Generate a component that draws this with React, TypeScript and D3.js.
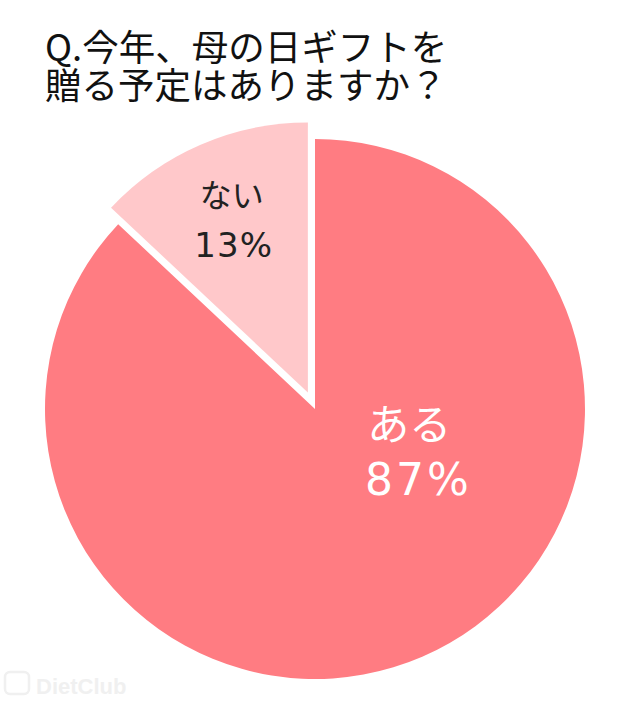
import React from "react";
import * as d3 from "d3";

const titleLines = ["Q.今年、母の日ギフトを", "贈る予定はありますか？"];
const categories = ["ある", "ない"];
const values = [87, 13];
const colors = ["#FF7C82", "#FFC8CA"];
const labelColors = ["#FFFFFF", "#222222"];

const W = 640;
const H = 703;
const cx = 315;
const cy = 409;
const R = 270;
const explode = 18;

// label layout per slice: angle (deg, clockwise from top), radius fraction, font sizes, offsets
const labelLayout = [
  { angle: 118.8, rFrac: 0.42, nameSize: 42, valueSize: 44, nameDy: -24, valueDy: 31, nameDx: -5, valueDx: 4, spacing: 3 },
  { angle: 336.6, rFrac: 0.72, nameSize: 32, valueSize: 34, nameDy: -7, valueDy: 43, nameDx: 1, valueDx: 3, spacing: 1 },
];

export default function App() {
  const data = categories.map((c, i) => ({ name: c, value: values[i], color: colors[i], text: labelColors[i], explode: i === 1 }));
  const pie = d3.pie<any>().value((d: any) => d.value).sort(null).startAngle(0).endAngle(Math.PI * 2);
  const arcs = pie(data);
  const arc = d3.arc<any>().innerRadius(0).outerRadius(R);
  const font = "'Noto Sans CJK JP', 'Noto Sans', sans-serif";
  const numFont = "'DejaVu Sans', 'Liberation Sans', sans-serif";

  return (
    <svg width={W} height={H} style={{ position: "absolute", left: 0, top: 0, background: "#fff" }} fontFamily={font}>
      <rect width={W} height={H} fill="#fff" />
      <text x={45} y={61} fontSize={36.5} fill="#111" fontWeight={400}>
        {titleLines.map((t, i) => (
          <tspan key={i} x={45} dy={i === 0 ? 0 : 38}>
            {t}
          </tspan>
        ))}
      </text>
      <g transform={`translate(${cx},${cy})`}>
        {arcs.map((a, i) => {
          const mid = (a.startAngle + a.endAngle) / 2;
          const off = a.data.explode ? explode : 0;
          const dx = Math.sin(mid) * off;
          const dy = -Math.cos(mid) * off;
          return (
            <g key={i} transform={`translate(${dx},${dy})`}>
              <path d={arc(a) as string} fill={a.data.color} />
            </g>
          );
        })}
        {arcs.map((a, i) => {
          const L = labelLayout[i];
          const ang = (L.angle * Math.PI) / 180;
          const mid = (a.startAngle + a.endAngle) / 2;
          const off = a.data.explode ? explode : 0;
          const rr = R * L.rFrac;
          const x = Math.sin(ang) * rr + Math.sin(mid) * off;
          const y = -Math.cos(ang) * rr - Math.cos(mid) * off;
          return (
            <g key={"l" + i} fill={a.data.text} textAnchor="middle">
              <text x={x + L.nameDx} y={y + L.nameDy} fontSize={L.nameSize}>{a.data.name}</text>
              <text x={x + L.valueDx} y={y + L.valueDy} fontSize={L.valueSize} fontFamily={numFont} letterSpacing={L.spacing}>
                {a.data.value}%
              </text>
            </g>
          );
        })}
      </g>
      <g opacity={0.9}>
        <rect x={5} y={672} width={24} height={22} rx={5} fill="none" stroke="#efefef" strokeWidth={2.5} />
        <text x={36} y={694} fontSize={22} fill="#efefef" fontFamily="'Liberation Sans', sans-serif" fontWeight={700}>
          DietClub
        </text>
      </g>
    </svg>
  );
}
